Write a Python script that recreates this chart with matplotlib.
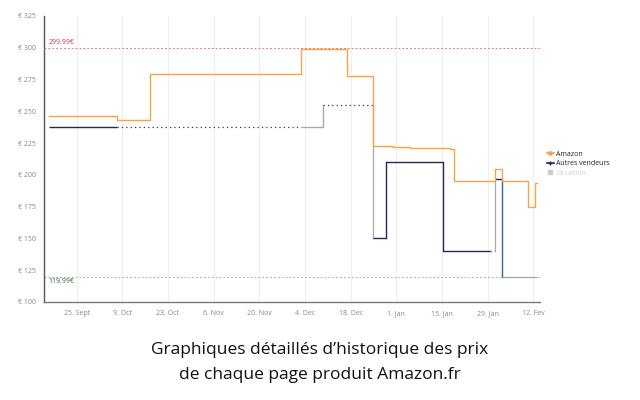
import matplotlib
matplotlib.use("Agg")
import matplotlib.pyplot as plt
from matplotlib.lines import Line2D

# ---- data (days since 25 Sept) ----
tick_days = [0, 14, 28, 42, 56, 70, 84, 98, 112, 126, 140]
tick_labels = ["25. Sept", "9. Oct", "23. Oct", "6. Nov", "20. Nov", "4. Dec",
               "18. Dec", "1. Jan", "15. Jan", "29. Jan", "12. Fev"]
y_ticks = [100, 125, 150, 175, 200, 225, 250, 275, 300, 325]

amazon_days = [-8.5, 12.4, 22.5, 68.8, 82.8, 90.8, 97.0, 102.2, 114.5, 115.7,
               128.3, 130.4, 138.4, 140.6, 141.0]
amazon_prices = [246, 243, 279, 299, 278, 223, 222, 221, 220.5, 195,
                 204.5, 195, 175, 194, 194]

other_days = [-8.5, 12.4, 68.8, 75.6, 90.8, 94.9, 112.4, 126.7, 128.3, 130.4, 141.0]
other_prices = [237.6, 237.6, 237.6, 255.0, 150.0, 210.0, 140.0, 140.0, 197.0, 120.0, 120.0]
other_state = ["vendeur", "gap", "tiers", "gap", "vendeur", "vendeur", "vendeur",
               "gap", "vendeur", "tiers"]

max_price = 299.99
min_price = 119.99
legend_labels = ["Amazon", "Autres vendeurs", "Occasion"]

# ---- styling ----
ORANGE = "#f2a54a"
NAVY = "#1d2b5a"
GRAY = "#a9a9a9"

fig = plt.figure(figsize=(6.4, 4.0), dpi=100)
ax = fig.add_axes([44/640, 1-302/400, 496/640, 286/400])

ax.set_xlim(-10, 142)
ax.set_ylim(100, 325)

for d in tick_days:
    ax.axvline(d, color="#efefef", lw=0.8, zorder=0)

# reference lines
ax.axhline(max_price, color="#e07a80", lw=0.7, ls=(0, (2, 2)), zorder=4)
ax.axhline(min_price, color="#b0b0b0", lw=0.7, ls=(0, (2, 2)), zorder=1)
ax.text(-8.5, max_price + 1.5, f"{max_price:.2f}€", color="#d8324a", fontsize=5,
        va="bottom", ha="left", family="Open Sans")
ax.text(-8.5, min_price - 1.5, f"{min_price:.2f}€", color="#2e6b3a", fontsize=5,
        va="top", ha="left", family="Open Sans")

# amazon
ax.plot(amazon_days, amazon_prices, drawstyle="steps-post", color=ORANGE, lw=1.0, zorder=3)

# other sellers, drawn piecewise by state
style = {
    "vendeur": dict(color=NAVY, lw=1.0, ls="-"),
    "tiers": dict(color=GRAY, lw=1.0, ls="-"),
    "gap": dict(color="#333333", lw=0.9, ls=(0, (1, 2.5))),
}
for i, st in enumerate(other_state):
    x0, x1 = other_days[i], other_days[i+1]
    y0, y1 = other_prices[i], other_prices[i+1]
    ax.plot([x0, x1], [y0, y0], zorder=2, solid_capstyle="butt", **style[st])
    if y1 != y0:
        if st == "gap":
            ax.plot([x1, x1], [y0, y1], color=GRAY, lw=0.9, zorder=2)
        elif st == "vendeur" and i == 8:
            ax.plot([x1, x1], [y0, y1], color="#3a6690", lw=1.0, zorder=2)
        else:
            ax.plot([x1, x1], [y0, y1], zorder=2, **style[st])

for s in ["top", "right"]:
    ax.spines[s].set_visible(False)
ax.spines["left"].set_color("#555555")
ax.spines["left"].set_linewidth(1.0)
ax.spines["bottom"].set_color("#777777")
ax.spines["bottom"].set_linewidth(1.0)

ax.set_xticks(tick_days)
ax.set_xticklabels(tick_labels)
ax.set_yticks(y_ticks)
ax.set_yticklabels([f"€ {v}" for v in y_ticks])
ax.tick_params(axis="both", length=0, labelsize=5, labelcolor="#888888", pad=6)
for lab in ax.get_xticklabels() + ax.get_yticklabels():
    lab.set_family("Open Sans")

handles = [
    Line2D([], [], color=ORANGE, lw=1.2, marker="o", ms=2.5),
    Line2D([], [], color=NAVY, lw=1.2, marker="+", ms=3),
    Line2D([], [], color="#cccccc", lw=0, marker="s", ms=3),
]
leg = fig.legend(handles, legend_labels, loc="upper left", bbox_to_anchor=(544/640, 1-148/400),
                 frameon=False, fontsize=5, handlelength=1.0, handletextpad=0.4,
                 labelspacing=0.35, borderaxespad=0, prop={"family": "Open Sans", "size": 5})
for t, c in zip(leg.get_texts(), ["#222222", "#222222", "#cccccc"]):
    t.set_color(c)

fig.text(0.5, 1-350/400, "Graphiques détaillés d’historique des prix", ha="center", va="center",
         fontsize=12.5, family="Open Sans", color="#111111")
fig.text(0.5, 1-375/400, "de chaque page produit Amazon.fr", ha="center", va="center",
         fontsize=12.5, family="Open Sans", color="#111111")

fig.savefig("out.png", dpi=100, facecolor="white")
